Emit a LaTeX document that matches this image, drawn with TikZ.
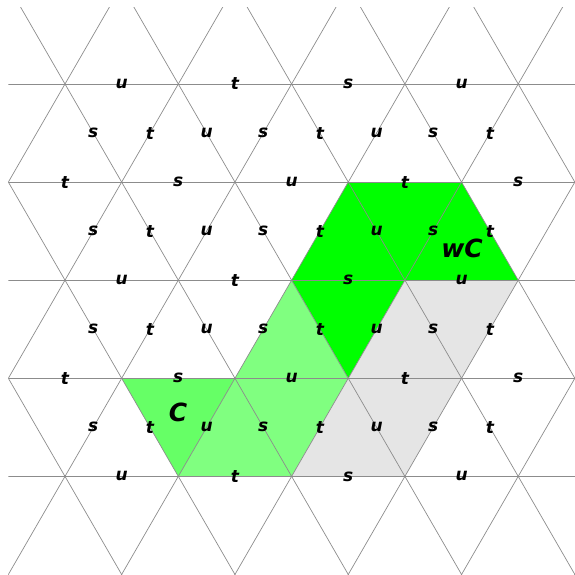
\documentclass[tikz,border=0pt]{standalone}
\usepackage{fontspec}
\setmainfont{DejaVu Sans}
\definecolor{lat}{RGB}{140,140,140}
\definecolor{wgreen}{RGB}{0,255,0}
\definecolor{lgreen}{RGB}{128,255,128}
\definecolor{cgreen}{RGB}{102,255,102}
\definecolor{lgray}{RGB}{229,229,229}
\begin{document}
\begin{tikzpicture}[x=1pt,y=-1pt,
  lab/.style={font=\fontsize{17}{17}\selectfont\bfseries\itshape, inner sep=0pt},
  big/.style={font=\fontsize{25}{25}\selectfont\bfseries\itshape, inner sep=0pt},
  gridline/.style={draw=lat, line width=0.7pt}]
\useasboundingbox (0,0) rectangle (574,575);
% coloured regions
\fill[wgreen] (348.25,182.1) -- (461.55,182.1) -- (518.2,280.2) -- (404.9,280.2) -- (348.25,378.3) -- (291.6,280.2) -- cycle;
\fill[lgreen] (178.3,476.4) -- (234.95,378.3) -- (291.6,280.2) -- (348.25,378.3) -- (291.6,476.4) -- cycle;
\fill[cgreen] (121.65,378.3) -- (234.95,378.3) -- (178.3,476.4) -- cycle;
\fill[lgray] (404.9,280.2) -- (518.2,280.2) -- (461.55,378.3) -- (404.9,476.4) -- (291.6,476.4) -- (348.25,378.3) -- cycle;
% lattice
\begin{scope}
\clip (8.3,7.3) rectangle (575,574);
\foreach \k in {0,...,4} \draw[gridline] (0,{84+98.1*\k}) -- (580,{84+98.1*\k});
\foreach \i in {-5,...,9} {
  \draw[gridline] ({65+113.3*\i-60.06},-20) -- ({65+113.3*\i+298},600);
  \draw[gridline] ({65+113.3*\i+60.06},-20) -- ({65+113.3*\i-298},600);
}
\end{scope}
% labels on horizontal edges
\foreach \y in {84,280.2,476.4} {
  \foreach \x/\l [count=\n] in {121.65/u,234.95/t,348.25/s,461.55/u}
    \node[lab] (ha\n-\y) at (\x,\y) {\l};
}
\foreach \y in {182.1,378.3} {
  \foreach \x/\l [count=\n] in {65/t,178.3/s,291.6/u,404.9/t,518.2/s}
    \node[lab] (hb\n-\y) at (\x,\y) {\l};
}
% labels on slanted edges
\foreach \y in {133.05,231.15,329.25,427.35} {
  \foreach \x/\l [count=\n] in {93.3/s,149.95/t,206.6/u,263.3/s,319.95/t,376.6/u,433.2/s,489.9/t}
    \node[lab] (d\n-\y) at (\x,\y) {\l};
}
\node[big] (wC) at (462,248) {wC};
\node[big] (C) at (178,412) {C};
\end{tikzpicture}
\end{document}
